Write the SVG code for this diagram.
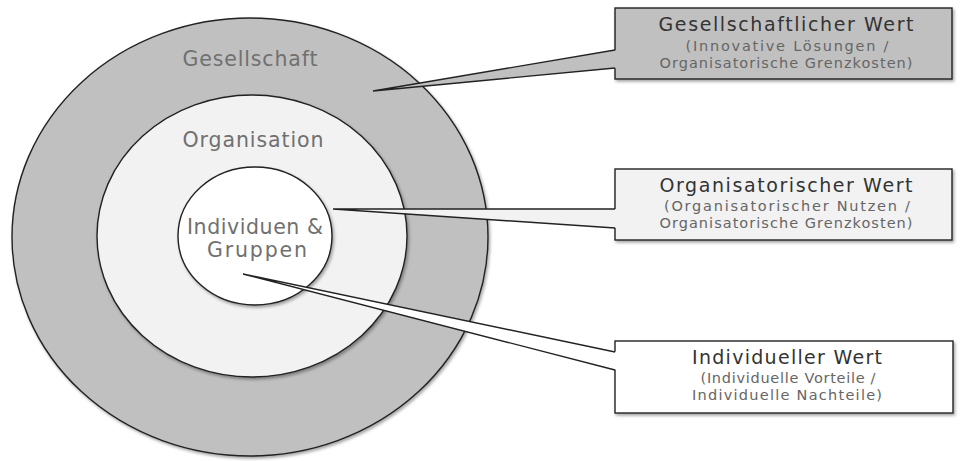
<svg xmlns="http://www.w3.org/2000/svg" width="960" height="461" viewBox="0 0 960 461">
<defs>
<filter id="sh" x="-10%" y="-10%" width="120%" height="120%">
<feDropShadow dx="1.5" dy="2" stdDeviation="1.5" flood-color="#000" flood-opacity="0.35"/>
</filter>
<style>
.ring{stroke:#222;stroke-width:1.4;filter:url(#sh)}
.box{stroke:#222;stroke-width:1.4;filter:url(#sh)}
.lbl{font-family:"DejaVu Sans","Liberation Sans",sans-serif;fill:#707070;text-anchor:middle;font-size:20.5px}
.t{font-family:"DejaVu Sans","Liberation Sans",sans-serif;fill:#333;text-anchor:middle;font-size:19px}
.s{font-family:"DejaVu Sans","Liberation Sans",sans-serif;fill:#666;text-anchor:middle;font-size:14.5px}
.wl{fill:none;stroke:#222;stroke-width:1.4}
</style>
</defs>
<rect width="960" height="461" fill="#fff"/>
<g id="gesellschaft">
<ellipse class="ring" cx="250" cy="237" rx="238" ry="219" fill="#c0c0c0"/>
<text class="lbl" x="250" y="66" textLength="135">Gesellschaft</text>
</g>
<g id="organisation">
<ellipse class="ring" cx="252" cy="236" rx="155" ry="141" fill="#f2f2f2"/>
<text class="lbl" x="253" y="147" textLength="141">Organisation</text>
</g>
<g id="individuen">
<ellipse class="ring" cx="255" cy="236" rx="77" ry="69" fill="#fff"/>
<text class="lbl" x="255" y="234" textLength="136">Individuen &amp;</text>
<text class="lbl" x="257" y="257" textLength="100">Gruppen</text>
</g>
<g id="box-gesellschaftlich">
<rect class="box" x="615" y="8" width="337" height="71" fill="#c0c0c0"/>
<text class="t" x="786" y="31" textLength="255">Gesellschaftlicher Wert</text>
<text class="s" x="787" y="51" textLength="203">(Innovative Lösungen /</text>
<text class="s" x="786" y="68" textLength="253">Organisatorische Grenzkosten)</text>
</g>
<g id="box-organisatorisch">
<rect class="box" x="615" y="169" width="337" height="71" fill="#f2f2f2"/>
<text class="t" x="786" y="192" textLength="253">Organisatorischer Wert</text>
<text class="s" x="787" y="211" textLength="246">(Organisatorischer Nutzen /</text>
<text class="s" x="786" y="228" textLength="253">Organisatorische Grenzkosten)</text>
</g>
<g id="box-individuell">
<rect class="box" x="615" y="341" width="338" height="72" fill="#fff"/>
<text class="t" x="787" y="364" textLength="190">Individueller Wert</text>
<text class="s" x="788" y="383" textLength="175">(Individuelle Vorteile /</text>
<text class="s" x="787" y="400" textLength="190">Individuelle Nachteile)</text>
</g>
<g id="connectors">
<polygon points="617,50 373,91 617,68" fill="#c0c0c0"/>
<polyline class="wl" points="615,50 373,91 615,68"/>
<polygon points="617,209 333,209 617,228" fill="#f2f2f2"/>
<polyline class="wl" points="615,209 333,209 615,228"/>
<polygon points="617,352 243,274 617,370" fill="#fff"/>
<polyline class="wl" points="615,352 243,274 615,370"/>
</g>
</svg>
